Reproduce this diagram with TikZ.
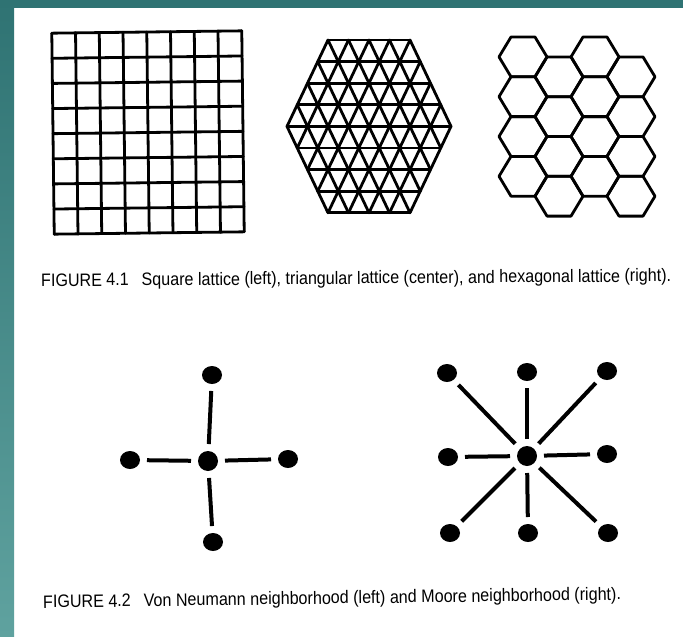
\documentclass[tikz,border=0pt]{standalone}
\usepackage{fontspec}
\setmainfont{Liberation Sans}
\usepackage{graphicx}
\usetikzlibrary{shapes.geometric}

\definecolor{slateteal}{HTML}{2F7373}
\definecolor{paleteal}{HTML}{5FA29F}

\begin{document}
\begin{tikzpicture}[
  x=1pt, y=-1pt,
  latline/.style={line width=2.8pt, line join=round, line cap=round},
  site/.style={ellipse, fill=black, inner sep=0pt, minimum width=20pt, minimum height=18pt, outer sep=7pt},
  hub/.style={circle, fill=black, inner sep=0pt, minimum size=20pt, outer sep=7pt},
  bond/.style={line width=4pt},
  caption/.style={anchor=base west, inner sep=0pt, font=\fontsize{18}{20}\selectfont}
]
  \useasboundingbox (0,0) rectangle (683,637);

  % ===== Slide background =====
  \fill[white] (0,0) rectangle (683,637);
  \shade[top color=slateteal, bottom color=paleteal] (0,0) rectangle (14,637);
  \fill[slateteal] (0,0) rectangle (683,8);

  % ===== Square lattice (8 x 8 cells) =====
  \begin{scope}[rotate around={0.7:(148,132.5)}]
    \foreach \k in {0,...,8} {
      \draw[latline] (53+23.75*\k,32) -- (53+23.75*\k,233);
      \draw[latline] (53,32+25.125*\k) -- (243,32+25.125*\k);
    }
  \end{scope}

  % ===== Triangular lattice, hexagon of side 4 =====
  \begin{scope}[shift={(369,126.4)}, x={(20.5pt,0pt)}, y={(10.25pt,-21.6pt)}]
    \foreach \b in {-4,...,4} {
      \pgfmathtruncatemacro\lo{max(-4,-4-\b)}
      \pgfmathtruncatemacro\hi{min(4,4-\b)}
      \draw[latline] (\lo,\b) -- (\hi,\b);
      \draw[latline] (\b,\lo) -- (\b,\hi);
      % lines of constant a+b
      \pgfmathtruncatemacro\blo{max(-4,\b-4)}
      \pgfmathtruncatemacro\bhi{min(4,\b+4)}
      \pgfmathtruncatemacro\alo{\b-\blo}
      \pgfmathtruncatemacro\ahi{\b-\bhi}
      \draw[latline] (\alo,\blo) -- (\ahi,\bhi);
    }
  \end{scope}

  % ===== Hexagonal lattice, 4 columns of 4 cells =====
  \foreach \k in {0,...,3} {
    \pgfmathsetmacro\cx{523+36*\k}
    \pgfmathsetmacro\cy{56.9+19.9*mod(\k,2)}
    \foreach \m in {0,...,3}
      \draw[latline, shift={(\cx,\cy+39.8*\m)}]
        (-24,0) -- (-12,-19.9) -- (12,-19.9) -- (24,0) -- (12,19.9) -- (-12,19.9) -- cycle;
  }

  \node[caption, rotate=0.45] (cap1) at (41,286.5)
    {\resizebox{630pt}{\height}{FIGURE 4.1\hspace{0.8em}Square lattice (left), triangular lattice (center), and hexagonal lattice (right).}};

  % ===== Von Neumann neighborhood =====
  \node[hub] (vc) at (208,461) {};
  \node[site] (vn) at (212,375) {};
  \node[site] (vs) at (213,542) {};
  \node[site] (vw) at (130,460) {};
  \node[site] (ve) at (288,459) {};
  \foreach \d in {vn,vs,vw,ve}
    \draw[bond] (vc) -- (\d);

  % ===== Moore neighborhood =====
  \node[hub] (mc) at (527,456) {};
  \foreach \n/\x/\y in {mnw/447/373, mn/527/372, mne/607/371, mw/448/457,
                        me/607/454, msw/450/533, ms/528/533, mse/608/533} {
    \node[site] (\n) at (\x,\y) {};
    \draw[bond] (mc) -- (\n);
  }

  \node[caption, rotate=0.8] (cap2) at (43,608)
    {\resizebox{578pt}{\height}{FIGURE 4.2\hspace{0.8em}Von Neumann neighborhood (left) and Moore neighborhood (right).}};
\end{tikzpicture}
\end{document}
